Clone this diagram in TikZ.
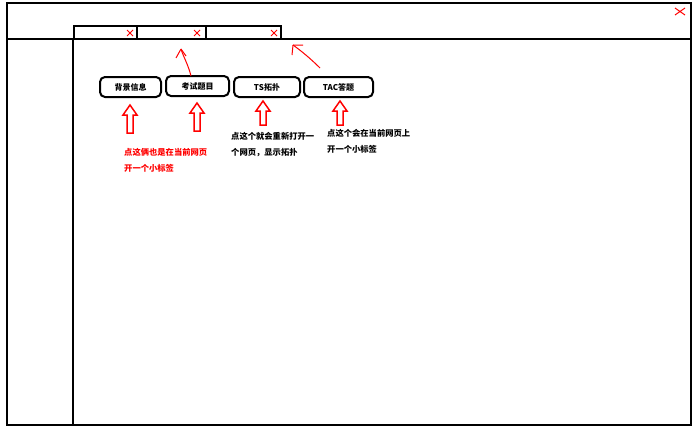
\documentclass[tikz,border=0pt]{standalone}
\usepackage{fontspec}
\setmainfont{Noto Sans CJK SC}
\newfontfamily\cjk{Noto Sans CJK SC}
\begin{document}
\begin{tikzpicture}[x=1pt,y=-1pt,
  frame/.style={draw=black,line width=1.6pt},
  btn/.style={draw=black,line width=2pt,rounded corners=5pt,minimum width=#1,minimum height=20pt,inner sep=0pt,font=\cjk\fontsize{8}{9}\selectfont\bfseries},
  btn/.default=62pt,
  xmark/.style={red,line width=1pt},
  hol/.style={draw=red,line width=1.5pt,fill=white},
  note/.style={anchor=north west,inner sep=0pt,align=left,font=\cjk\fontsize{8.3}{16}\selectfont\bfseries},
  curv/.style={red,line width=1pt}
]
\useasboundingbox (0,0) rectangle (700,431);
% outer window
\draw[frame] (7,3) rectangle (691,425);
\draw[frame] (7,39) -- (691,39);
\draw[frame] (73,39) -- (73,425);
% tabs
\draw[frame] (74,39) -- (74,26) -- (281,26) -- (281,39);
\draw[frame] (137,26) -- (137,39);
\draw[frame] (206,26) -- (206,39);
% x marks
\foreach \cx/\cy in {130/33, 197/33, 274/33}{
  \draw[xmark] (\cx-3,\cy-3) -- (\cx+3,\cy+3) (\cx-3,\cy+3) -- (\cx+3,\cy-3);
}
\draw[xmark] (675,8) -- (685,15) (675,15) -- (685,8);
% buttons
\node[btn=61pt] (b1) at (130.5,87) {背景信息};
\node[btn=63pt] (b2) at (197.5,86) {考试题目};
\node[btn=66pt] (b3) at (267,87) {TS拓扑};
\node[btn=69pt] (b4) at (338.5,87) {TAC答题};
% hollow up arrows
\foreach \ax/\ay/\ah in {130/105/28, 197/103/28, 263/101/24, 340/101/24}{
  \draw[hol] (\ax,\ay) -- (\ax+7,\ay+10) -- (\ax+3,\ay+10) -- (\ax+3,\ay+\ah) -- (\ax-3,\ay+\ah) -- (\ax-3,\ay+10) -- (\ax-7,\ay+10) -- cycle;
}
% curvy red arrows
\coordinate (c1s) at (191,76);
\coordinate (c1e) at (181,49);
\draw[curv] (c1s) .. controls (188,64) and (183,56) .. (c1e);
\draw[curv] (c1e) -- (176,58) (c1e) -- (186,56);
\coordinate (c2s) at (320,68);
\coordinate (c2e) at (293,45);
\draw[curv] (c2s) .. controls (310,58) and (300,50) .. (c2e);
\draw[curv] (c2e) -- (292,55) (c2e) -- (303,45);
% notes
\node[note,text=red] (n1) at (124,148) {点这俩也是在当前网页\\开一个小标签};
\node[note] (n2) at (231,132) {点这个就会重新打开一\\个网页，显示拓扑};
\node[note] (n3) at (327,129) {点这个会在当前网页上\\开一个小标签};
\end{tikzpicture}
\end{document}
